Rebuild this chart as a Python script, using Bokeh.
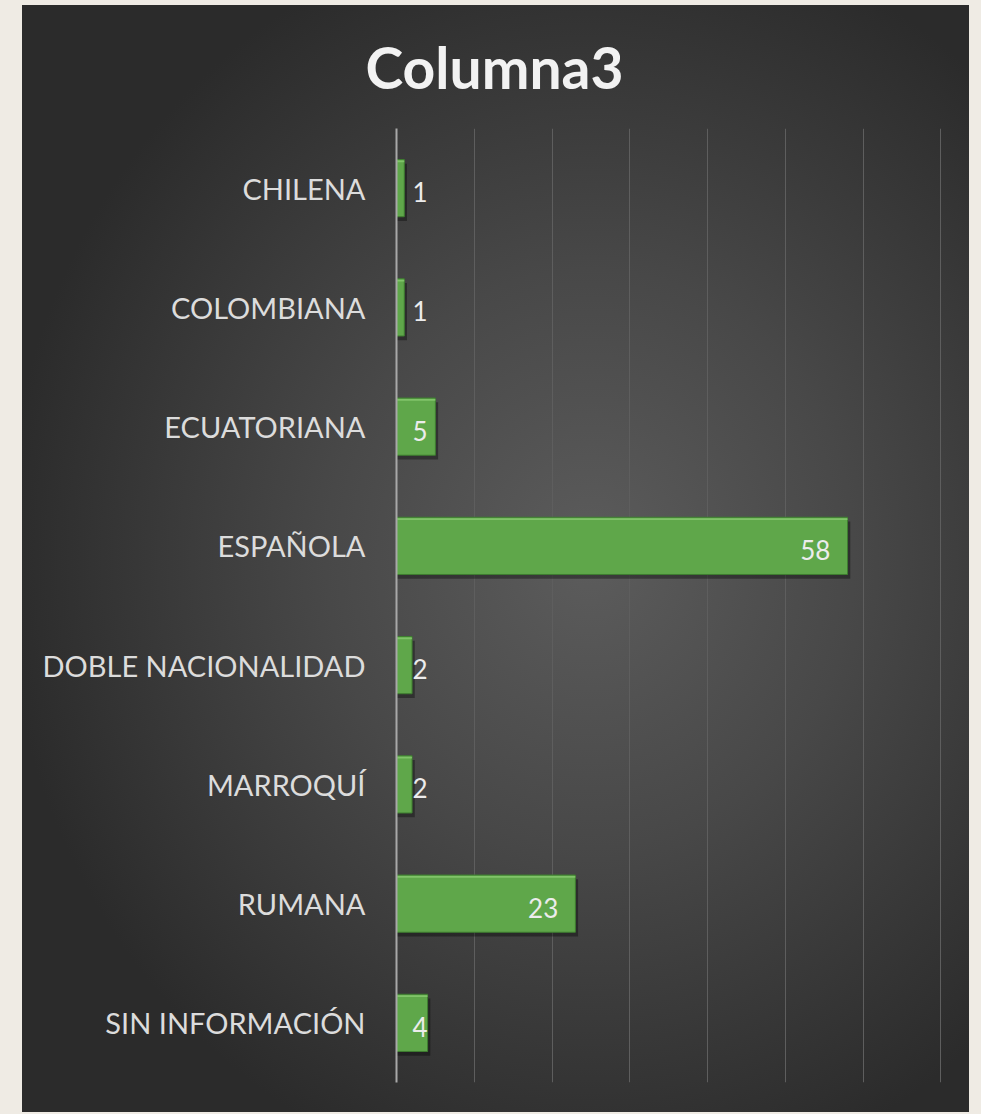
from bokeh.plotting import figure
from bokeh.models import ColumnDataSource, FactorRange, FixedTicker, GlobalInlineStyleSheet
from bokeh.transform import dodge
from bokeh.core.properties import value
from bokeh.embed import file_html
from bokeh.resources import INLINE

categories = ["CHILENA", "COLOMBIANA", "ECUATORIANA", "ESPAÑOLA",
              "DOBLE NACIONALIDAD", "MARROQUÍ", "RUMANA", "SIN INFORMACIÓN"]
counts = [1, 1, 5, 58, 2, 2, 23, 4]
x_ticks = [0, 10, 20, 30, 40, 50, 60, 70]
title_text = "Columna3"

label_x = [max(v - 2.2, 4.0) for v in counts]
src = ColumnDataSource(dict(cat=categories, v=counts, lx=label_x,
                            lbl=[str(v) for v in counts],
                            vs=[v + 0.35 for v in counts]))

p = figure(width=969, height=1112, output_backend="svg", toolbar_location=None,
           y_range=FactorRange(factors=list(reversed(categories))),
           x_range=(0, 70.08),
           min_border_left=396, min_border_right=28,
           min_border_top=128, min_border_bottom=30)

p.border_fill_color = None
p.background_fill_color = None
p.outline_line_color = None
p.styles = {
    "background": "radial-gradient(ellipse 62% 58% at 60% 50%, #5c5c5c 0%, #484848 45%, #2b2b2b 100%) 22px 5px / 947px 1107px no-repeat, #efebe4"
}
p.stylesheets.append(GlobalInlineStyleSheet(css="body{background:#efebe4;}"))

# title
p.title.text = title_text
p.title.align = "left"
p.title.offset = -31
p.title.text_font = "Lato"
p.title.text_font_style = "bold"
p.title.text_font_size = "57px"
p.title.text_color = "#f2f2f2"
p.title.standoff = 56

# axes
p.xaxis.visible = False
p.xaxis.ticker = FixedTicker(ticks=x_ticks)
p.xgrid.ticker = FixedTicker(ticks=x_ticks)
p.xgrid.grid_line_color = "#5e5e5e"
p.xgrid.grid_line_width = 1
p.ygrid.grid_line_color = None

ax = p.yaxis[0]
ax.axis_line_color = "#a8a8a8"
ax.axis_line_width = 2
ax.major_tick_line_color = None
ax.minor_tick_line_color = None
ax.major_label_standoff = 25
ax.major_label_text_font = "Lato"
ax.major_label_text_font_size = "29px"
ax.major_label_text_color = "#dcdcdc"

# shadow
p.hbar(y=dodge("cat", -0.035, range=p.y_range), left=0, right="vs", height=0.48,
       source=src, fill_color="black", fill_alpha=0.35, line_color=None)
# bars
p.hbar(y="cat", left=0, right="v", height=0.48, source=src,
       fill_color="#5fa74a", line_color="#3e7d30", line_width=1)
# highlight on top edge
p.hbar(y=dodge("cat", 0.225, range=p.y_range), left=0.1, right="v", height=0.015,
       source=src, fill_color="#8fd076", fill_alpha=0.7, line_color=None)

p.text(x="lx", y="cat", text="lbl", source=src, text_align="right",
       text_baseline="middle", text_font=value("Lato"), text_font_size="26px",
       text_color="#ececec", y_offset=4)

open("out.html", "w").write(file_html(p, INLINE))
